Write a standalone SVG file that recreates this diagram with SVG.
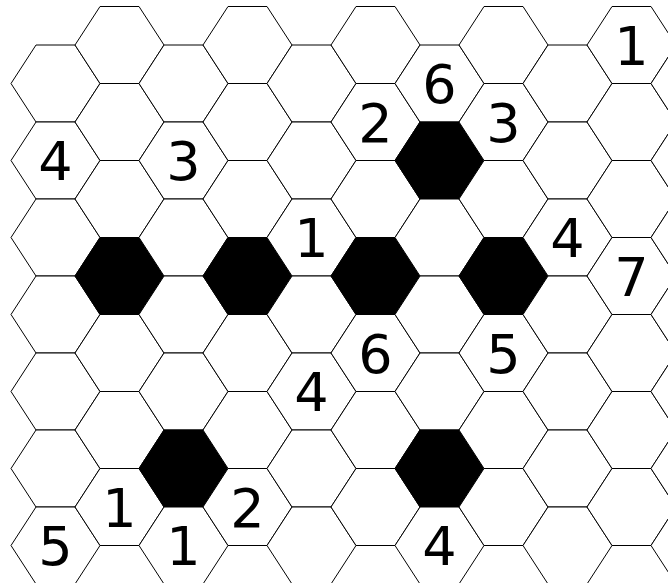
<svg xmlns="http://www.w3.org/2000/svg" xmlns:xlink="http://www.w3.org/1999/xlink" width="668" height="583" viewBox="0 0 668 583">
<style>
.c{fill:#fff;stroke:#000;stroke-width:1}
.b{fill:#000;stroke:#000;stroke-width:1}
.t{font-family:"DejaVu Sans",Verdana,sans-serif;font-size:54px;text-anchor:middle;fill:#000}
</style>
<defs><path id="h" d="M-44.5,0 L-19.5,-38.5 L19.5,-38.5 L44.5,0 L19.5,38.5 L-19.5,38.5 Z"/></defs>
<rect width="668" height="583" fill="#fff"/>
<g id="grid">
<g id="c0">
<use href="#h" class="c" x="55.5" y="83.5"/><use href="#h" class="c" x="55.5" y="160.5"/><use href="#h" class="c" x="55.5" y="237.5"/><use href="#h" class="c" x="55.5" y="314.5"/><use href="#h" class="c" x="55.5" y="391.5"/><use href="#h" class="c" x="55.5" y="468.5"/><use href="#h" class="c" x="55.5" y="545.5"/>
</g>
<g id="c1">
<use href="#h" class="c" x="119.5" y="45"/><use href="#h" class="c" x="119.5" y="122"/><use href="#h" class="c" x="119.5" y="199"/><use href="#h" class="b" x="119.5" y="276"/><use href="#h" class="c" x="119.5" y="353"/><use href="#h" class="c" x="119.5" y="430"/><use href="#h" class="c" x="119.5" y="507"/>
</g>
<g id="c2">
<use href="#h" class="c" x="183.5" y="83.5"/><use href="#h" class="c" x="183.5" y="160.5"/><use href="#h" class="c" x="183.5" y="237.5"/><use href="#h" class="c" x="183.5" y="314.5"/><use href="#h" class="c" x="183.5" y="391.5"/><use href="#h" class="b" x="183.5" y="468.5"/><use href="#h" class="c" x="183.5" y="545.5"/>
</g>
<g id="c3">
<use href="#h" class="c" x="247.5" y="45"/><use href="#h" class="c" x="247.5" y="122"/><use href="#h" class="c" x="247.5" y="199"/><use href="#h" class="b" x="247.5" y="276"/><use href="#h" class="c" x="247.5" y="353"/><use href="#h" class="c" x="247.5" y="430"/><use href="#h" class="c" x="247.5" y="507"/>
</g>
<g id="c4">
<use href="#h" class="c" x="311.5" y="83.5"/><use href="#h" class="c" x="311.5" y="160.5"/><use href="#h" class="c" x="311.5" y="237.5"/><use href="#h" class="c" x="311.5" y="314.5"/><use href="#h" class="c" x="311.5" y="391.5"/><use href="#h" class="c" x="311.5" y="468.5"/><use href="#h" class="c" x="311.5" y="545.5"/>
</g>
<g id="c5">
<use href="#h" class="c" x="375.5" y="45"/><use href="#h" class="c" x="375.5" y="122"/><use href="#h" class="c" x="375.5" y="199"/><use href="#h" class="b" x="375.5" y="276"/><use href="#h" class="c" x="375.5" y="353"/><use href="#h" class="c" x="375.5" y="430"/><use href="#h" class="c" x="375.5" y="507"/>
</g>
<g id="c6">
<use href="#h" class="c" x="439.5" y="83.5"/><use href="#h" class="b" x="439.5" y="160.5"/><use href="#h" class="c" x="439.5" y="237.5"/><use href="#h" class="c" x="439.5" y="314.5"/><use href="#h" class="c" x="439.5" y="391.5"/><use href="#h" class="b" x="439.5" y="468.5"/><use href="#h" class="c" x="439.5" y="545.5"/>
</g>
<g id="c7">
<use href="#h" class="c" x="503.5" y="45"/><use href="#h" class="c" x="503.5" y="122"/><use href="#h" class="c" x="503.5" y="199"/><use href="#h" class="b" x="503.5" y="276"/><use href="#h" class="c" x="503.5" y="353"/><use href="#h" class="c" x="503.5" y="430"/><use href="#h" class="c" x="503.5" y="507"/>
</g>
<g id="c8">
<use href="#h" class="c" x="567.5" y="83.5"/><use href="#h" class="c" x="567.5" y="160.5"/><use href="#h" class="c" x="567.5" y="237.5"/><use href="#h" class="c" x="567.5" y="314.5"/><use href="#h" class="c" x="567.5" y="391.5"/><use href="#h" class="c" x="567.5" y="468.5"/><use href="#h" class="c" x="567.5" y="545.5"/>
</g>
<g id="c9">
<use href="#h" class="c" x="631.5" y="45"/><use href="#h" class="c" x="631.5" y="122"/><use href="#h" class="c" x="631.5" y="199"/><use href="#h" class="c" x="631.5" y="276"/><use href="#h" class="c" x="631.5" y="353"/><use href="#h" class="c" x="631.5" y="430"/><use href="#h" class="c" x="631.5" y="507"/>
</g>
<g id="c10">
<use href="#h" class="c" x="695.5" y="83.5"/><use href="#h" class="c" x="695.5" y="160.5"/><use href="#h" class="c" x="695.5" y="237.5"/><use href="#h" class="c" x="695.5" y="314.5"/><use href="#h" class="c" x="695.5" y="391.5"/><use href="#h" class="c" x="695.5" y="468.5"/><use href="#h" class="c" x="695.5" y="545.5"/>
</g>
</g>
<g id="numbers" class="t">
<text x="631.5" y="64.5">1</text>
<text x="439.5" y="103">6</text>
<text x="375.5" y="141.5">2</text>
<text x="503.5" y="141.5">3</text>
<text x="55.5" y="180">4</text>
<text x="183.5" y="180">3</text>
<text x="311.5" y="257">1</text>
<text x="567.5" y="257">4</text>
<text x="631.5" y="295.5">7</text>
<text x="375.5" y="372.5">6</text>
<text x="503.5" y="372.5">5</text>
<text x="311.5" y="411">4</text>
<text x="119.5" y="526.5">1</text>
<text x="247.5" y="526.5">2</text>
<text x="55.5" y="565">5</text>
<text x="183.5" y="565">1</text>
<text x="439.5" y="565">4</text>
</g>
</svg>
